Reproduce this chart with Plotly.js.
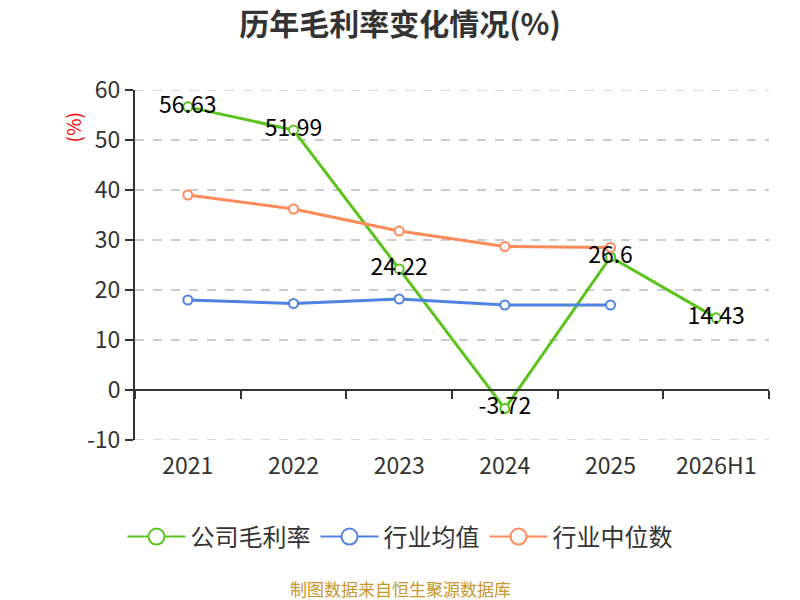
<!DOCTYPE html>
<html>
<head>
<meta charset="utf-8">
<script src="https://cdn.plot.ly/plotly-3.0.1.min.js"></script>
<style>body{margin:0;background:#fff;}</style>
</head>
<body>
<div id="chart" style="width:800px;height:600px;"></div>
<script>
//Categories and series
var years = ["2021", "2022", "2023", "2024", "2025", "2026H1"];
var companyMargin = [56.63, 51.99, 24.22, -3.72, 26.6, 14.43];
var industryMean = [18.0, 17.3, 18.2, 17.0, 17.0];
var industryMedian = [39.0, 36.2, 31.8, 28.7, 28.5];
var yTicks = [-10, 0, 10, 20, 30, 40, 50, 60];

var names = ['公司毛利率', '行业均值', '行业中位数'];
var colors = ['#5ac31c', '#4e83e4', '#fe8a5a'];
var font = '"Noto Sans CJK SC", "Noto Sans", sans-serif';

function series(i, y) {
  return {
    x: years.slice(0, y.length), y: y, name: names[i], legendgroup: names[i],
    type: 'scatter', mode: 'lines+markers', showlegend: false,
    line: {color: colors[i], width: 3},
    marker: {symbol: 'circle', size: 9, color: '#ffffff', line: {color: colors[i], width: 2}},
    hoverinfo: 'x+y'
  };
}

//legend-only entries so the legend circles can be bigger than the plotted ones
function legendEntry(i) {
  return {
    x: [null], y: [null], name: names[i], legendgroup: names[i],
    type: 'scatter', mode: 'lines+markers',
    line: {color: colors[i], width: 2},
    marker: {symbol: 'circle', size: 16, color: '#ffffff', line: {color: colors[i], width: 2}}
  };
}

var data = [
  series(0, companyMargin),
  series(1, industryMean),
  series(2, industryMedian),
  legendEntry(0), legendEntry(1), legendEntry(2),
  //labels drawn on top of all lines
  {x: years, y: companyMargin, mode: 'text', text: companyMargin.map(String),
   textposition: 'middle center', textfont: {family: font, size: 23, color: '#000000'},
   showlegend: false, hoverinfo: 'skip'},
  //invisible copy that carries the zero-line axis with boundary ticks
  {x: years, y: companyMargin, xaxis: 'x2', mode: 'lines', line: {width: 0},
   opacity: 0, showlegend: false, hoverinfo: 'skip'}
];

//plotly drops the grid lines at the range ends, so draw those two as shapes
var edgeGrid = [yTicks[0], yTicks[yTicks.length - 1]].map(function (v) {
  return {type: 'line', xref: 'paper', yref: 'y', x0: 0, x1: 1, y0: v, y1: v, layer: 'below',
          line: {color: '#cccccc', width: 1.5, dash: 'dash'}};
});

var layout = {
  width: 800, height: 600,
  paper_bgcolor: '#ffffff', plot_bgcolor: '#ffffff',
  font: {family: font, color: '#333333'},
  margin: {l: 135, r: 31, t: 90, b: 160},
  title: {text: '<b>历年毛利率变化情况(%)</b>', x: 0.5, xanchor: 'center', y: 0.96, yanchor: 'middle',
          font: {family: font, size: 30, color: '#333333'}},
  xaxis: {type: 'category', range: [-0.5, 5.5], showgrid: false, showline: false, zeroline: false,
          ticks: '', ticklabelstandoff: 10, tickfont: {size: 23, color: '#333333'}},
  xaxis2: {type: 'category', overlaying: 'x', anchor: 'free', position: 1 / 7, range: [-0.5, 5.5],
           showline: true, linecolor: '#333333', linewidth: 2, ticks: 'outside', tickson: 'boundaries',
           ticklen: 8, tickwidth: 2, tickcolor: '#333333', showticklabels: false, showgrid: false,
           zeroline: false},
  yaxis: {range: [-10, 60], tickvals: yTicks, ticktext: yTicks.map(String),
          showline: true, linecolor: '#333333', linewidth: 2,
          ticks: 'outside', ticklen: 8, tickwidth: 2, tickcolor: '#333333',
          showgrid: true, gridcolor: '#cccccc', griddash: 'dash', gridwidth: 1.5, zeroline: false,
          tickfont: {size: 23, color: '#333333'}},
  legend: {orientation: 'h', x: 0.418, xanchor: 'center', y: -0.277, yanchor: 'middle',
           font: {size: 24, color: '#333333', family: font}, itemwidth: 58},
  shapes: edgeGrid,
  annotations: [
    {text: '(%)', xref: 'paper', yref: 'paper', x: 0, y: 0.94, xshift: -79, textangle: -90,
     showarrow: false, font: {size: 19, color: '#ff0000', family: font}},
    {text: '制图数据来自恒生聚源数据库', xref: 'paper', yref: 'paper', x: 0.418, y: -0.423,
     xanchor: 'center', yanchor: 'middle', showarrow: false,
     font: {size: 17, color: '#c8962b', family: font}}
  ],
  showlegend: true
};

Plotly.newPlot('chart', data, layout, {displayModeBar: false, staticPlot: true});
</script>
</body>
</html>
